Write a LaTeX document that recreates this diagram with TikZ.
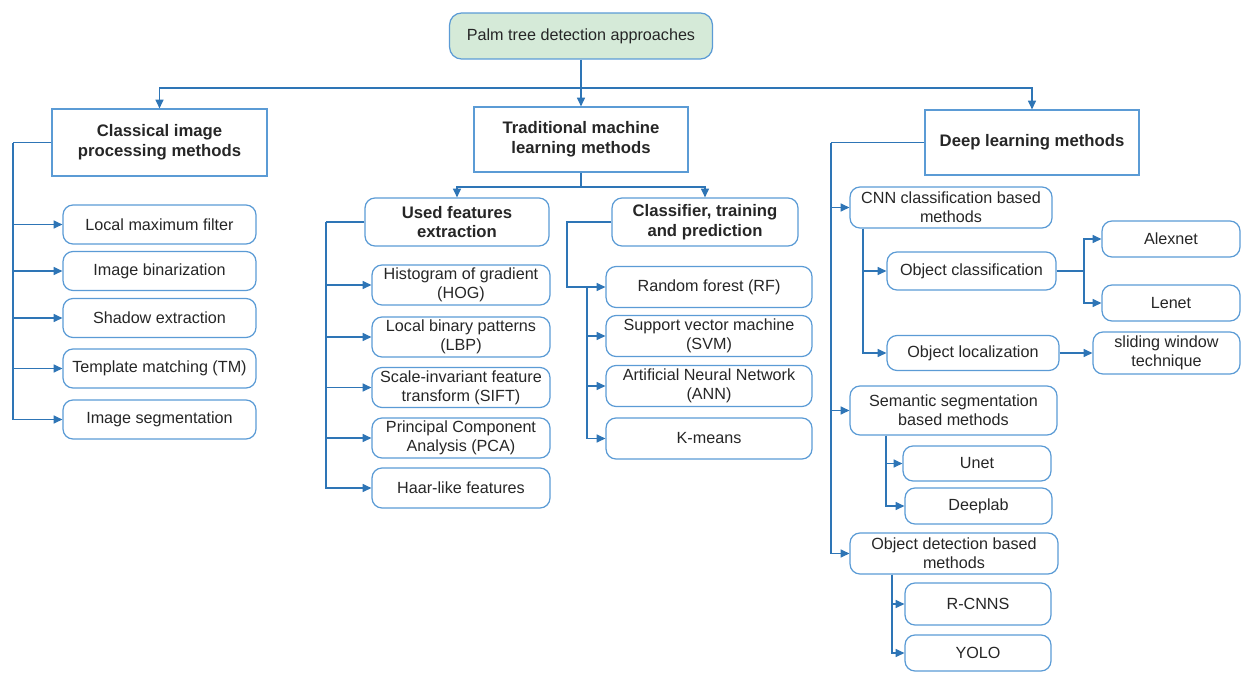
\documentclass[tikz,border=0pt]{standalone}
\usepackage{fontspec}
\setmainfont{Liberation Sans}
\usetikzlibrary{arrows.meta}
\definecolor{edgecol}{HTML}{5B9BD5}
\definecolor{wirecol}{HTML}{2E75B6}
\definecolor{palmfill}{HTML}{D5EAD8}

\begin{document}
\begin{tikzpicture}
    [x=0.02cm,y=-0.02cm,
     every node/.style={align=center,inner sep=1pt,text=black!85,
         font=\fontsize{9.2}{11}\selectfont},
     leaf/.style={draw=edgecol,line width=0.7pt,rounded corners=0.2cm},
     head/.style={draw=edgecol,line width=0.7pt,
         font=\fontsize{9.5}{11.3}\selectfont\bfseries},
     wire/.style={draw=wirecol,line width=0.7pt},
     arr/.style={wire,-{Triangle[length=5pt,width=4.6pt]}}]
\useasboundingbox (0,0) rectangle (1241,673);
% root and the three families
\path
    (581,36) node [leaf,fill=palmfill,rounded corners=0.24cm,
        minimum width=5.26cm,minimum height=0.92cm] (root) {Palm tree detection approaches}
    (159.5,142.5) node [head,minimum width=4.30cm,minimum height=1.34cm] (classic)
        {Classical image\\processing methods}
    (581,139.5) node [head,minimum width=4.28cm,minimum height=1.30cm] (trad)
        {Traditional machine\\learning methods}
    (1032,142.5) node [head,minimum width=4.28cm,minimum height=1.30cm] (deep)
        {Deep learning methods};
% classical image processing
\path [every node/.append style={leaf,minimum width=3.86cm,minimum height=0.78cm}]
    (159.5,224.5) node (c1) {Local maximum filter}
    (159.5,271) node (c2) {Image binarization}
    (159.5,318) node (c3) {Shadow extraction}
    (159.5,368.5) node (c4) {Template matching (TM)}
    (159.5,419.5) node (c5) {Image segmentation};
% traditional machine learning
\path
    (457,222) node [head,leaf,minimum width=3.68cm,minimum height=0.96cm] (used)
        {Used features\\extraction}
    (705,222) node [head,leaf,minimum width=3.72cm,minimum height=0.96cm] (clf)
        {Classifier, training\\and prediction};
\path [every node/.append style={leaf,minimum width=3.56cm,minimum height=0.80cm}]
    (461,285) node (f1) {Histogram of gradient\\(HOG)}
    (461,337) node (f2) {Local binary patterns\\(LBP)}
    (461,387.5) node (f3) {Scale-invariant feature\\transform (SIFT)}
    (461,438) node (f4) {Principal Component\\Analysis (PCA)}
    (461,488) node (f5) {Haar-like features};
\path [every node/.append style={leaf,minimum width=4.12cm,minimum height=0.82cm}]
    (709,287) node (k1) {Random forest (RF)}
    (709,336) node (k2) {Support vector machine\\(SVM)}
    (709,386) node (k3) {Artificial Neural Network\\(ANN)}
    (709,438.5) node (k4) {K-means};
% deep learning
\path [every node/.append style={leaf}]
    (951,207.5) node [minimum width=4.04cm,minimum height=0.82cm] (cnn)
        {CNN classification based\\methods}
    (953.5,410.5) node [minimum width=4.14cm,minimum height=0.98cm] (sem)
        {Semantic segmentation\\based methods}
    (954,553.5) node [minimum width=4.16cm,minimum height=0.82cm] (det)
        {Object detection based\\methods}
    (971.5,271) node [minimum width=3.38cm,minimum height=0.76cm] (objcls)
        {Object classification}
    (973,353) node [minimum width=3.44cm,minimum height=0.70cm] (objloc)
        {Object localization}
    (1171,239) node [minimum width=2.76cm,minimum height=0.72cm] (alex) {Alexnet}
    (1171,303) node [minimum width=2.76cm,minimum height=0.72cm] (lenet) {Lenet}
    (1166.5,353) node [minimum width=2.94cm,minimum height=0.84cm] (slide)
        {sliding window\\technique}
    (977,463.5) node [minimum width=2.96cm,minimum height=0.70cm] (unet) {Unet}
    (978.5,506) node [minimum width=2.94cm,minimum height=0.72cm] (deeplab) {Deeplab}
    (978,604) node [minimum width=2.92cm,minimum height=0.84cm] (rcnn) {R-CNNS}
    (978,653) node [minimum width=2.92cm,minimum height=0.72cm] (yolo) {YOLO};
% bus points
\coordinate (top) at (581,88);
\coordinate (cbus) at (13,142.5);
\coordinate (tbus) at (581,187);
\coordinate (ubus) at (326,222);
\coordinate (kbus) at (567,222);
\coordinate (kbus2) at (587,287);
\coordinate (dbus) at (831,142.5);
\coordinate (cnnbus) at (863,228.5);
\coordinate (ocbus) at (1084,271);
\coordinate (sembus) at (886,435.5);
\coordinate (detbus) at (892,574.5);
% connectors
\draw [arr] (root.south) -- (trad.north);
\draw [arr] (top) -| (classic.north);
\draw [arr] (top) -| (deep.north);
\draw [wire] (classic.west) -- (cbus);
\foreach \n in {c1,c2,c3,c4,c5}
    \draw [arr] (cbus) |- (\n.west);
\draw [wire] (trad.south) -- (tbus);
\draw [arr] (tbus) -| (used.north);
\draw [arr] (tbus) -| (clf.north);
\draw [wire] (used.west) -- (ubus);
\foreach \n in {f1,f2,f3,f4,f5}
    \draw [arr] (ubus) |- (\n.west);
\draw [arr] (clf.west) -- (kbus) |- (k1.west);
\foreach \n in {k2,k3,k4}
    \draw [arr] (kbus2) |- (\n.west);
\draw [wire] (deep.west) -- (dbus);
\foreach \n in {cnn,sem,det}
    \draw [arr] (dbus) |- (\n.west);
\foreach \n in {objcls,objloc}
    \draw [arr] (cnnbus) |- (\n.west);
\draw [wire] (objcls.east) -- (ocbus);
\foreach \n in {alex,lenet}
    \draw [arr] (ocbus) |- (\n.west);
\draw [arr] (objloc.east) -- (slide.west);
\foreach \n in {unet,deeplab}
    \draw [arr] (sembus) |- (\n.west);
\foreach \n in {rcnn,yolo}
    \draw [arr] (detbus) |- (\n.west);
\end{tikzpicture}
\end{document}
